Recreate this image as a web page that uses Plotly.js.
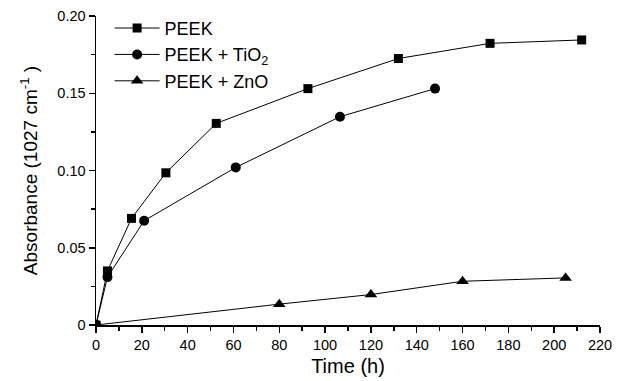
<!DOCTYPE html>
<html>
<head>
<meta charset="utf-8">
<script src="https://cdn.plot.ly/plotly-3.0.1.min.js"></script>
<style>html,body{margin:0;padding:0;background:#fff;}#chart{width:621px;height:381px;}</style>
</head>
<body>
<div id="chart"></div>
<script>
const peekTime = [0, 5, 15.5, 30.5, 52.5, 92.5, 132, 172, 212];
const peekAbs = [0, 0.035, 0.069, 0.0985, 0.1305, 0.153, 0.1725, 0.1823, 0.1845];
const tioTime = [0, 5, 21, 61, 106.5, 148];
const tioAbs = [0, 0.031, 0.0675, 0.102, 0.1348, 0.153];
const znoTime = [0, 80, 120, 160, 205];
const znoAbs = [0, 0.0135, 0.0197, 0.0283, 0.0305];
const seriesNames = ['PEEK', 'PEEK + TiO<sub>2</sub>', 'PEEK + ZnO'];
const yTickVals = [0, 0.05, 0.10, 0.15, 0.20];
const yTickText = ['0', '0.05', '0.10', '0.15', '0.20'];
const xTickVals = [0, 20, 40, 60, 80, 100, 120, 140, 160, 180, 200, 220];

const font = 'Liberation Sans, Arial, sans-serif';
const line = {color: '#000', width: 1};
const traces = [
  {x: peekTime, y: peekAbs, name: seriesNames[0], mode: 'lines+markers', line: line,
   marker: {symbol: 'square', size: 9, color: '#000'}},
  {x: tioTime, y: tioAbs, name: seriesNames[1], mode: 'lines+markers', line: line,
   marker: {symbol: 'circle', size: 10, color: '#000'}},
  {x: znoTime, y: znoAbs, name: seriesNames[2], mode: 'lines+markers', line: line,
   marker: {symbol: 'triangle-up', size: 11, color: '#000'}}
];
const layout = {
  width: 621, height: 381,
  margin: {l: 96, r: 21, t: 16, b: 56, autoexpand: false},
  paper_bgcolor: '#fff', plot_bgcolor: '#fff',
  font: {family: font, color: '#000', size: 14.5},
  showlegend: true,
  legend: {x: 0.027, y: 1.02, xanchor: 'left', yanchor: 'top', bgcolor: 'rgba(0,0,0,0)',
    font: {family: font, size: 18, color: '#000'}, tracegroupgap: 0, itemwidth: 45},
  xaxis: {
    range: [0, 220], tickvals: xTickVals, showgrid: false, zeroline: false,
    showline: true, linecolor: '#000', linewidth: 1.5,
    ticks: 'outside', ticklen: 6, tickwidth: 1.5, tickcolor: '#000',
    minor: {dtick: 10, tick0: 0, ticks: 'outside', ticklen: 4, tickcolor: '#000', tickwidth: 1.5, showgrid: false},
    tickfont: {family: font, size: 14.5},
    title: {text: 'Time (h)', font: {family: font, size: 20}, standoff: 7}
  },
  yaxis: {
    range: [0, 0.2], tickvals: yTickVals, ticktext: yTickText, showgrid: false, zeroline: false,
    showline: true, linecolor: '#000', linewidth: 1.5,
    ticks: 'outside', ticklen: 6, tickwidth: 1.5, tickcolor: '#000',
    minor: {dtick: 0.025, tick0: 0, ticks: 'outside', ticklen: 4, tickcolor: '#000', tickwidth: 1.5, showgrid: false},
    tickfont: {family: font, size: 14.5},
    title: {text: 'Absorbance (1027 cm<sup>-1</sup> )', font: {family: font, size: 19}, standoff: 14}
  }
};
Plotly.newPlot('chart', traces, layout, {displayModeBar: false, staticPlot: true});
</script>
</body>
</html>
